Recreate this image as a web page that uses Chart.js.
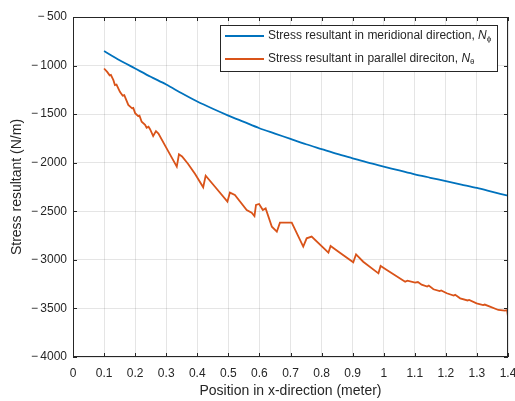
<!DOCTYPE html>
<html>
<head>
<meta charset="utf-8">
<script src="https://cdn.jsdelivr.net/npm/chart.js@4/dist/chart.umd.min.js"></script>
<style>
  html, body { margin: 0; padding: 0; background: #fff; }
</style>
</head>
<body>
<canvas id="chart" width="515" height="401"></canvas>
<script>
// Meridional stress resultant N_phi
const meridX = [0.1, 0.15, 0.2, 0.25, 0.3, 0.35, 0.4, 0.45, 0.5, 0.55, 0.6, 0.65, 0.7, 0.75, 0.8, 0.85, 0.9, 0.95, 1.0, 1.05, 1.1, 1.15, 1.2, 1.25, 1.3, 1.35, 1.4];
const meridY = [-850, -945, -1030, -1115, -1195, -1285, -1370, -1445, -1515, -1580, -1645, -1700, -1755, -1810, -1860, -1910, -1955, -2000, -2040, -2080, -2120, -2155, -2190, -2225, -2260, -2300, -2340];

// Parallel stress resultant N_theta (jagged curve)
const parX = [0.1, 0.11, 0.118, 0.122, 0.13, 0.135, 0.14, 0.151, 0.16, 0.165, 0.178, 0.19, 0.194, 0.2, 0.21, 0.214, 0.221, 0.232, 0.237, 0.243, 0.248, 0.258, 0.267, 0.275, 0.3, 0.334, 0.341, 0.351, 0.37, 0.393, 0.419, 0.427, 0.457, 0.497, 0.505, 0.521, 0.559, 0.575, 0.584, 0.589, 0.599, 0.611, 0.62, 0.64, 0.656, 0.666, 0.704, 0.741, 0.752, 0.768, 0.822, 0.829, 0.859, 0.902, 0.911, 0.934, 0.983, 0.99, 1.01, 1.069, 1.076, 1.101, 1.11, 1.122, 1.14, 1.145, 1.16, 1.18, 1.185, 1.203, 1.225, 1.23, 1.246, 1.27, 1.275, 1.299, 1.32, 1.325, 1.342, 1.369, 1.39, 1.397, 1.4];
const parY = [-1030, -1065, -1100, -1095, -1150, -1200, -1195, -1270, -1310, -1305, -1405, -1440, -1435, -1490, -1520, -1515, -1578, -1610, -1640, -1630, -1655, -1725, -1675, -1700, -1845, -2040, -1913, -1935, -2010, -2116, -2253, -2133, -2247, -2401, -2308, -2332, -2487, -2514, -2549, -2435, -2425, -2487, -2470, -2659, -2710, -2617, -2617, -2864, -2778, -2761, -2926, -2857, -2926, -3025, -2943, -3019, -3139, -3063, -3104, -3225, -3214, -3235, -3228, -3255, -3275, -3265, -3303, -3322, -3315, -3344, -3368, -3360, -3396, -3418, -3412, -3447, -3465, -3460, -3482, -3516, -3523, -3518, -3585];

const xTicks = [0, 0.1, 0.2, 0.3, 0.4, 0.5, 0.6, 0.7, 0.8, 0.9, 1, 1.1, 1.2, 1.3, 1.4];
const yTicks = [-4000, -3500, -3000, -2500, -2000, -1500, -1000, -500];

const toPts = (xs, ys) => xs.map((x, i) => ({ x: x, y: ys[i] }));
const axisColor = '#262626';
const fontFam = '"Liberation Sans", Arial, sans-serif';

// box round the axes with inward tick marks, MATLAB style
const boxPlugin = {
    id: 'boxPlugin',
    afterDatasetsDraw(chart) {
        const ctx = chart.ctx;
        const a = chart.chartArea;
        const xs = chart.scales.x, ys = chart.scales.y;
        ctx.save();
        ctx.strokeStyle = axisColor;
        ctx.lineWidth = 1;
        ctx.strokeRect(a.left + 0.5, a.top + 0.5, a.right - a.left - 1, a.bottom - a.top - 1);
        ctx.beginPath();
        xTicks.forEach(v => {
            const px = Math.round(xs.getPixelForValue(v)) + 0.5;
            ctx.moveTo(px, a.bottom); ctx.lineTo(px, a.bottom - 4);
            ctx.moveTo(px, a.top); ctx.lineTo(px, a.top + 4);
        });
        yTicks.forEach(v => {
            const py = Math.round(ys.getPixelForValue(v)) + 0.5;
            ctx.moveTo(a.left, py); ctx.lineTo(a.left + 4, py);
            ctx.moveTo(a.right, py); ctx.lineTo(a.right - 4, py);
        });
        ctx.stroke();
        ctx.restore();
    }
};

// legend box in the top right corner
const legendPlugin = {
    id: 'legendPlugin',
    afterDraw(chart) {
        const ctx = chart.ctx;
        const entries = [
            { color: '#0072BD', text: 'Stress resultant in meridional direction, ', sub: '\u03D5' },
            { color: '#D95319', text: 'Stress resultant in parallel direciton, ', sub: '\u03B8' }
        ];
        const left = 220, top = 25, w = 277, h = 46;
        ctx.save();
        ctx.fillStyle = '#fff';
        ctx.fillRect(left, top, w, h);
        ctx.strokeStyle = axisColor;
        ctx.lineWidth = 1;
        ctx.strokeRect(left + 0.5, top + 0.5, w, h);
        entries.forEach((e, i) => {
            const y = top + 11 + i * 23;
            ctx.strokeStyle = e.color;
            ctx.lineWidth = 2;
            ctx.beginPath();
            ctx.moveTo(left + 5, y);
            ctx.lineTo(left + 44, y);
            ctx.stroke();
            ctx.fillStyle = axisColor;
            ctx.textBaseline = 'middle';
            ctx.font = '12px ' + fontFam;
            let tx = left + 48;
            ctx.fillText(e.text, tx, y);
            tx += ctx.measureText(e.text).width;
            ctx.font = 'italic 12px ' + fontFam;
            ctx.fillText('N', tx, y);
            tx += ctx.measureText('N').width;
            ctx.font = '8px ' + fontFam;
            ctx.fillText(e.sub, tx, y + 3);
        });
        ctx.restore();
    }
};

const minus = v => String(v).replace('-', '\u2212\u2009');

new Chart(document.getElementById('chart'), {
    type: 'scatter',
    data: {
        datasets: [
            {
                label: 'Stress resultant in meridional direction, N_phi',
                data: toPts(meridX, meridY),
                showLine: true,
                borderColor: '#0072BD',
                borderWidth: 1.8,
                pointRadius: 0,
                tension: 0.3
            },
            {
                label: 'Stress resultant in parallel direciton, N_theta',
                data: toPts(parX, parY),
                showLine: true,
                borderColor: '#D95319',
                borderWidth: 1.8,
                pointRadius: 0,
                tension: 0
            }
        ]
    },
    options: {
        responsive: false,
        animation: false,
        layout: { padding: { top: 17, right: 7, left: 0, bottom: 0 } },
        plugins: { legend: { display: false }, tooltip: { enabled: false } },
        scales: {
            x: {
                type: 'linear',
                min: 0,
                max: 1.4,
                afterBuildTicks: scale => { scale.ticks = xTicks.map(v => ({ value: v })); },
                afterFit: scale => {
                    scale.height = 44;
                    // let the last label hang past the edge like the original
                    scale.paddingRight = 0;
                    scale.paddingLeft = 0;
                },
                ticks: {
                    color: axisColor,
                    font: { size: 12, family: fontFam },
                    padding: 9,
                    maxRotation: 0,
                    callback: v => String(v)
                },
                grid: { color: 'rgba(0,0,0,0.1)', drawTicks: false },
                border: { display: false },
                title: {
                    display: true,
                    text: 'Position in x-direction (meter)',
                    color: axisColor,
                    font: { size: 14, family: fontFam },
                    padding: { top: 0, bottom: 1 }
                }
            },
            y: {
                type: 'linear',
                min: -4000,
                max: -500,
                afterBuildTicks: scale => { scale.ticks = yTicks.map(v => ({ value: v })); },
                afterFit: scale => { scale.width = 73; },
                ticks: {
                    color: axisColor,
                    font: { size: 12, family: fontFam },
                    padding: 6,
                    callback: v => minus(v)
                },
                grid: { color: 'rgba(0,0,0,0.1)', drawTicks: false },
                border: { display: false },
                title: {
                    display: true,
                    text: 'Stress resultant (N/m)',
                    color: axisColor,
                    font: { size: 14, family: fontFam },
                    padding: { top: 9, bottom: 0 }
                }
            }
        }
    },
    plugins: [boxPlugin, legendPlugin]
});
</script>
</body>
</html>
